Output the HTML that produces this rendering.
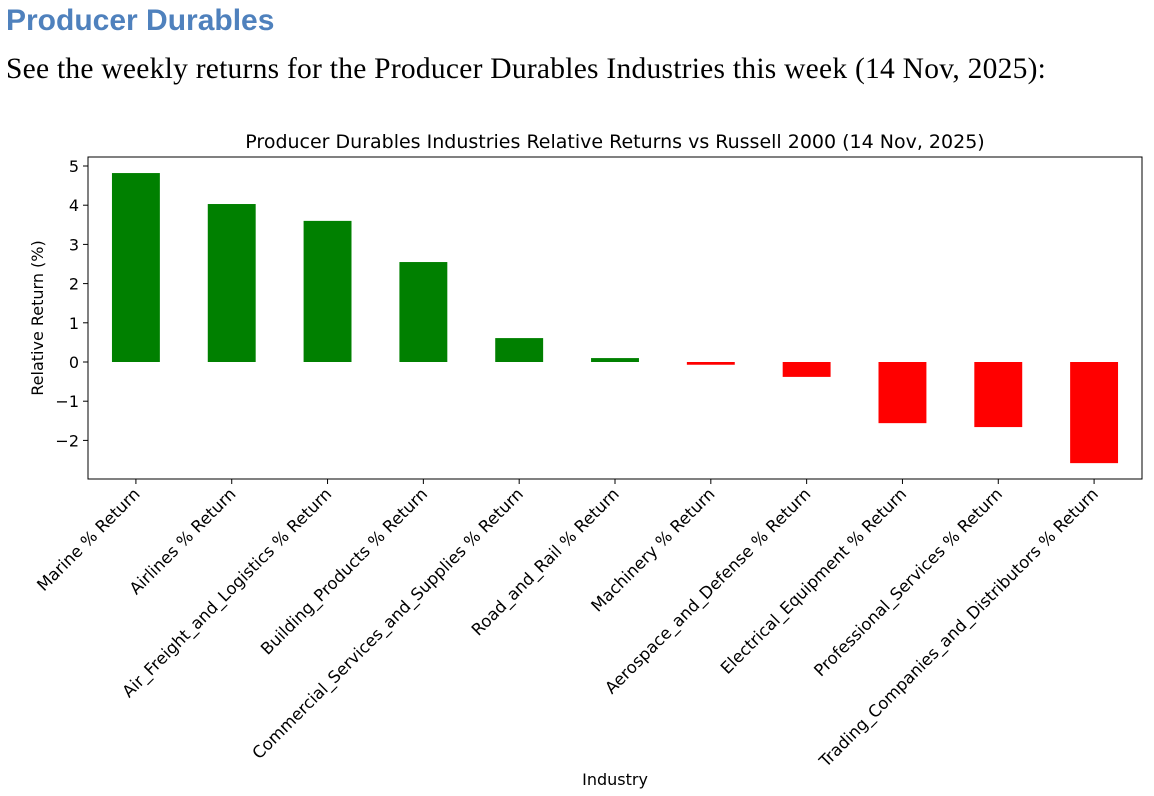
<!DOCTYPE html>
<html><head><meta charset="utf-8"><style>
body{margin:0;background:#fff;width:1154px;height:796px;overflow:hidden;position:relative}
#h1{position:absolute;left:6px;top:4px;font:bold 30px "Liberation Sans",sans-serif;color:#4f81bd;margin:0}
#sub{position:absolute;left:6px;top:53px;font:29.5px "Liberation Serif",serif;color:#000;margin:0;letter-spacing:0.25px}
svg{position:absolute;left:0;top:0}
text{font-family:"DejaVu Sans","Liberation Sans",sans-serif;fill:#000}
</style></head><body>
<h1 id="h1">Producer Durables</h1>
<p id="sub">See the weekly returns for the Producer Durables Industries this week (14 Nov, 2025):</p>
<svg id="chart" width="1154" height="796"></svg>
<script>
const categories=["Marine % Return","Airlines % Return","Air_Freight_and_Logistics % Return","Building_Products % Return","Commercial_Services_and_Supplies % Return","Road_and_Rail % Return","Machinery % Return","Aerospace_and_Defense % Return","Electrical_Equipment % Return","Professional_Services % Return","Trading_Companies_and_Distributors % Return"];
const values=[4.82,4.03,3.6,2.55,0.61,0.1,-0.07,-0.38,-1.56,-1.66,-2.58];
const yTicks=[-2,-1,0,1,2,3,4,5];
const svg=document.getElementById('chart');const NS='http://www.w3.org/2000/svg';
const L=88,R=1142,T=157,B=479;
const y0=362,ppu=39.2;
const y=v=>y0-v*ppu;
const step=(R-L)/categories.length;
const x=i=>L+step*(i+0.5);
const bw=step*0.5;
function mk(t,a,p){const e=document.createElementNS(NS,t);for(const k in a)e.setAttribute(k,a[k]);(p||svg).appendChild(e);return e;}
let t=mk('text',{x:615,y:148,'text-anchor':'middle','font-size':19});t.textContent='Producer Durables Industries Relative Returns vs Russell 2000 (14 Nov, 2025)';


values.forEach((v,i)=>{
 const r=mk('rect',{x:x(i)-bw/2,y:Math.min(y(v),y(0)),width:bw,height:Math.abs(y(v)-y(0)),fill:v>=0?'#008000':'#ff0000'});
 
 
 mk('line',{x1:x(i),x2:x(i),y1:B,y2:B+5,stroke:'#000','stroke-width':1});
 const lb=mk('text',{x:0,y:0,'text-anchor':'end','font-size':16.5,transform:`translate(${x(i)+5},${B+16}) rotate(-45)`});
 lb.textContent=categories[i];
 
 
});
yTicks.forEach(v=>{
 mk('line',{x1:L-5,x2:L,y1:y(v),y2:y(v),stroke:'#000'});
 const tl=mk('text',{x:L-9,y:y(v)+6,'text-anchor':'end','font-size':16});
 tl.textContent=v<0?'\u2212'+Math.abs(v):String(v);
 
 
});
const fr=mk('rect',{x:L,y:T,width:R-L,height:B-T,fill:'none',stroke:'#000','stroke-width':1});


const yl=mk('text',{x:0,y:0,'text-anchor':'middle','font-size':16,transform:`translate(43,${(T+B)/2}) rotate(-90)`});yl.textContent='Relative Return (%)';


const xl=mk('text',{x:615,y:785,'text-anchor':'middle','font-size':16});xl.textContent='Industry';


</script>
</body></html>
